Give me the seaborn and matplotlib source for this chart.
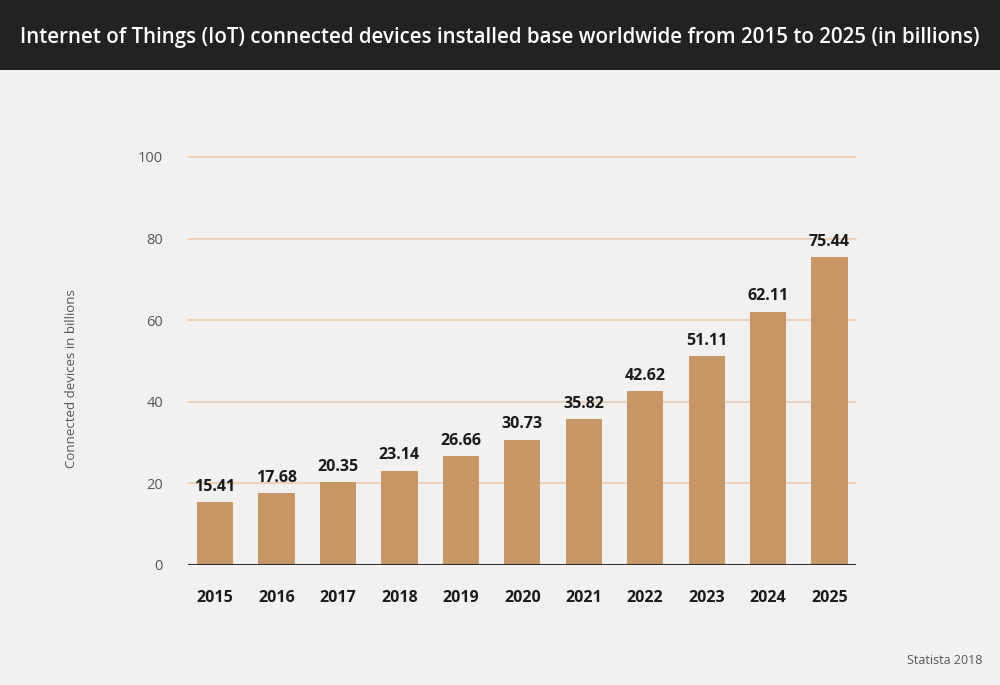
import matplotlib
matplotlib.use("Agg")
import matplotlib.pyplot as plt
import seaborn as sns
import pandas as pd
from matplotlib.patches import Rectangle

years = ["2015", "2016", "2017", "2018", "2019", "2020", "2021", "2022", "2023", "2024", "2025"]
values = [15.41, 17.68, 20.35, 23.14, 26.66, 30.73, 35.82, 42.62, 51.11, 62.11, 75.44]
yticks = [0, 20, 40, 60, 80, 100]

title = "Internet of Things (IoT) connected devices installed base worldwide from 2015 to 2025 (in billions)"
ylabel = "Connected devices in billions"
source = "Statista 2018"

sns.set_theme(style="white")
plt.rcParams['font.family'] = ['Open Sans', 'DejaVu Sans']

bg = "#f2f1f0"
bar_color = "#c99766"
grid_color = "#e9cdb0"

fig = plt.figure(figsize=(10, 6.85), dpi=100, facecolor=bg)
# title bar
fig.patches.append(Rectangle((0, 1 - 70 / 685), 1, 70 / 685, transform=fig.transFigure,
                             facecolor="#222222", edgecolor="none", zorder=0))
fig.text(0.5, 1 - 38 / 685, title, color="white", ha="center", va="center",
         fontsize=14.8, fontweight="semibold")

ax = fig.add_axes([0.188, 1 - 565 / 685, 0.668, (565 - 157) / 685])
ax.set_facecolor(bg)
df = pd.DataFrame({"year": years, "value": values})
sns.barplot(data=df, x="year", y="value", color=bar_color, width=0.59, ax=ax,
            saturation=1, zorder=3, linewidth=0, edgecolor=bar_color)

ax.set_ylim(0, 100)
ax.set_xlim(-0.44, 10.43)
ax.set_yticks(yticks)
ax.set_yticklabels([str(t) for t in yticks], color="#555555", fontsize=10.5)
for t in yticks[1:]:
    ax.axhline(t, color=grid_color, lw=1.2, zorder=1, clip_on=False)
ax.axhline(0, color="#333333", lw=1.5, zorder=4)

for lbl in ax.get_xticklabels():
    lbl.set_fontweight("bold")
    lbl.set_fontsize(11.5)
    lbl.set_color("#1a1a1a")
ax.tick_params(axis="x", length=0, pad=18)
ax.tick_params(axis="y", length=0, pad=18)
for s in ax.spines.values():
    s.set_visible(False)
ax.set_xlabel("")
ax.set_ylabel(ylabel, color="#555555", fontsize=9.5)
ax.yaxis.set_label_coords(-0.165, 0.458)

for i, v in enumerate(values):
    ax.text(i, v + 1.8, f"{v:.2f}", ha="center", va="bottom", fontsize=11.5,
            fontweight="bold", color="#1a1a1a", zorder=5)

fig.text(982 / 1000, 1 - 660 / 685, source, ha="right", va="center",
         fontsize=9, color="#555555")

fig.savefig("out.png", dpi=100, facecolor=bg)
